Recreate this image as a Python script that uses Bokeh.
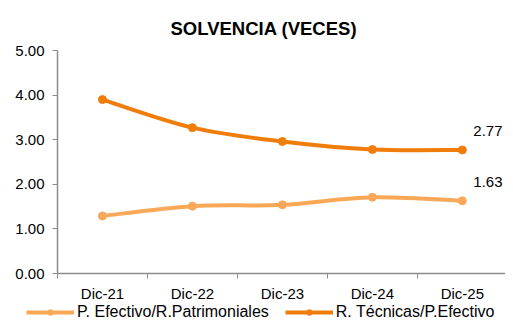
import numpy as np
from bokeh.plotting import figure
from bokeh.layouts import column, row
from bokeh.models import Range1d, FixedTicker, Legend, LegendItem, ColumnDataSource, Title, CustomJSTickFormatter
from bokeh.core.properties import value
from bokeh.embed import file_html
from bokeh.resources import INLINE

categories = ["Dic-21", "Dic-22", "Dic-23", "Dic-24", "Dic-25"]
pe_rp = [1.29, 1.51, 1.54, 1.71, 1.63]      # P. Efectivo/R.Patrimoniales
rt_pe = [3.90, 3.27, 2.96, 2.78, 2.77]      # R. Técnicas/P.Efectivo
series_names = ["P. Efectivo/R.Patrimoniales", "R. Técnicas/P.Efectivo"]
y_ticks = [0, 1, 2, 3, 4, 5]

FONT = "Liberation Sans"
LIGHT = "#F9A857"
DARK = "#F07D0A"
AXIS = "#8C8C8C"

xs = np.arange(len(categories)) + 0.5

p = figure(width=505, height=304, output_backend="svg", toolbar_location=None,
           x_range=Range1d(0, 4.98), y_range=Range1d(0, 5),
           min_border_left=57, min_border_right=0, min_border_top=50,
           min_border_bottom=27)
p.title = Title(text="SOLVENCIA (VECES)", align="left", offset=113, standoff=24,
                text_font=FONT, text_font_size="18.5px", text_font_style="bold",
                text_color="#000000")
p.outline_line_color = None
p.xgrid.visible = False
p.ygrid.visible = False
p.background_fill_color = "white"
p.border_fill_color = "white"

for ax in (p.xaxis, p.yaxis):
    ax.axis_line_color = AXIS
    ax.axis_line_width = 1.5
    ax.major_tick_line_color = AXIS
    ax.minor_tick_line_color = AXIS
    ax.major_label_text_font = FONT
    ax.major_label_text_font_size = "15px"
    ax.major_label_text_color = "#000000"

p.yaxis.ticker = FixedTicker(ticks=y_ticks)
p.yaxis.formatter = CustomJSTickFormatter(code="return tick.toFixed(2);")
p.yaxis.major_tick_out = 5
p.yaxis.major_tick_in = 0
p.yaxis.minor_tick_out = 0
p.yaxis.major_label_standoff = 8

p.xaxis.ticker = FixedTicker(ticks=list(xs), minor_ticks=list(np.arange(len(categories) + 1)))
p.xaxis.major_label_overrides = {float(x): c for x, c in zip(xs, categories)}
p.xaxis.major_tick_out = 0
p.xaxis.major_tick_in = 0
p.xaxis.minor_tick_out = 5
p.xaxis.minor_tick_in = 0
p.xaxis.major_label_standoff = 6


def bezier_ctrl(x, y, t=1/6):
    x = np.asarray(x, float); y = np.asarray(y, float)
    n = len(x)
    xp = np.concatenate([[x[0]], x, [x[-1]]])
    yp = np.concatenate([[y[0]], y, [y[-1]]])
    d = dict(x0=[], y0=[], x1=[], y1=[], cx0=[], cy0=[], cx1=[], cy1=[])
    for i in range(n - 1):
        p0x, p0y = xp[i], yp[i]
        p1x, p1y = xp[i + 1], yp[i + 1]
        p2x, p2y = xp[i + 2], yp[i + 2]
        p3x, p3y = xp[i + 3], yp[i + 3]
        d["x0"].append(p1x); d["y0"].append(p1y)
        d["x1"].append(p2x); d["y1"].append(p2y)
        d["cx0"].append(p1x + (p2x - p0x) * t); d["cy0"].append(p1y + (p2y - p0y) * t)
        d["cx1"].append(p2x - (p3x - p1x) * t); d["cy1"].append(p2y - (p3y - p1y) * t)
    return ColumnDataSource(d)


# legend strip: a second, axis-less figure whose data lies outside its view
q = figure(width=505, height=15, output_backend="svg", toolbar_location=None,
           x_range=Range1d(0, 4.98), y_range=Range1d(-2, -1),
           min_border_left=0, min_border_right=0, min_border_top=0, min_border_bottom=0,
           x_axis_location=None, y_axis_location=None)
q.outline_line_color = None
q.xgrid.visible = False
q.ygrid.visible = False
q.border_fill_color = "white"

items = []
for vals, col, name in ((pe_rp, LIGHT, series_names[0]), (rt_pe, DARK, series_names[1])):
    src = bezier_ctrl(xs, vals)
    p.bezier(x0="x0", y0="y0", x1="x1", y1="y1", cx0="cx0", cy0="cy0",
             cx1="cx1", cy1="cy1", source=src, line_color=col, line_width=4)
    p.scatter(xs, vals, size=8, color=col, marker="circle")
    p.text([xs[-1]], [vals[-1]], text=[f"{vals[-1]:.2f}"], x_offset=11, y_offset=-19,
           text_font=value(FONT), text_font_size="15px", text_color="#000000",
           text_baseline="middle", text_align="left")
    ql = q.line(xs, vals, line_color=col, line_width=4)
    qs = q.scatter(xs, vals, size=8, color=col, marker="circle")
    items.append(LegendItem(label=name, renderers=[ql, qs]))

legend = Legend(items=items, orientation="horizontal", location=(26, -2),
                glyph_width=48, glyph_height=14, label_standoff=3, spacing=16,
                padding=0, margin=0, border_line_color=None, background_fill_alpha=0,
                label_text_font=FONT, label_text_font_size="16px", label_text_color="#000000")
q.add_layout(legend)

layout = column(p, row(q, spacing=0), spacing=0)
open("out.html", "w").write(file_html(layout, INLINE))
